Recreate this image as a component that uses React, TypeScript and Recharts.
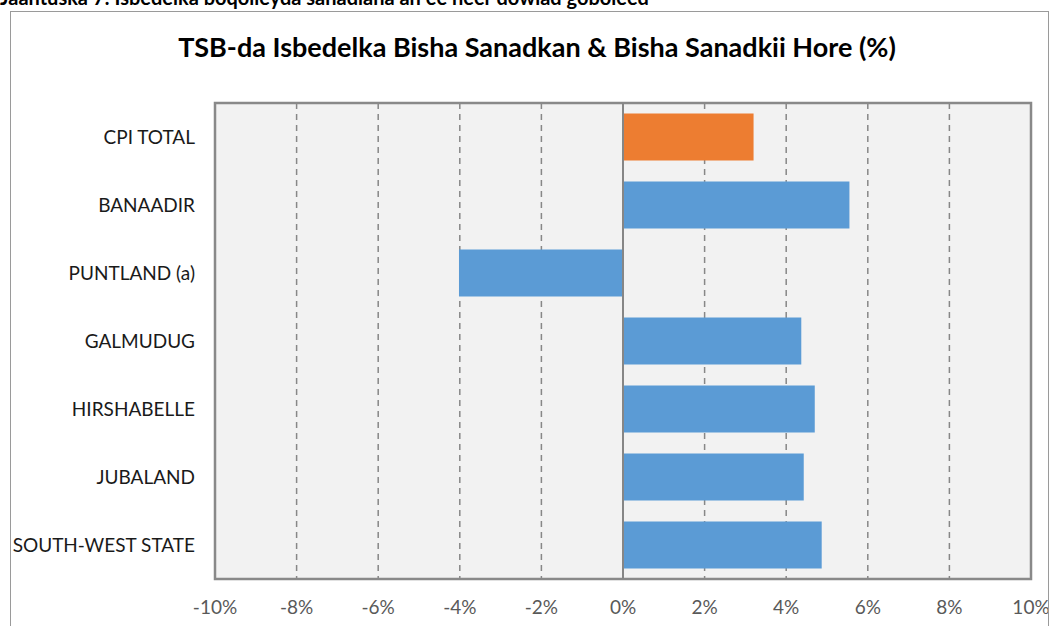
import React from 'react';
import { BarChart, Bar, XAxis, YAxis, CartesianGrid, Cell, ReferenceLine, ReferenceArea } from 'recharts';

const regions = ['CPI TOTAL', 'BANAADIR', 'PUNTLAND (a)', 'GALMUDUG', 'HIRSHABELLE', 'JUBALAND', 'SOUTH-WEST STATE'];
const changePct = [3.2, 5.55, -4.02, 4.37, 4.7, 4.43, 4.87];
const xTicks = [-10, -8, -6, -4, -2, 0, 2, 4, 6, 8, 10];

const FONT = 'Lato, "Open Sans", sans-serif';

const data = regions.map((name, i) => ({ name, value: changePct[i] }));

export default function App() {
  return (
    <div style={{ position: 'absolute', left: 0, top: 0, width: 1050, height: 626, overflow: 'hidden', background: '#fff', fontFamily: FONT }}>
      <div style={{ position: 'absolute', left: 0, top: -13, fontSize: 20, lineHeight: '20px', fontWeight: 700, color: '#000', whiteSpace: 'nowrap' }}>
        Jaantuska 7: Isbedelka boqolleyda sanadlaha ah ee heer dowlad goboleed
      </div>
      <div style={{ position: 'absolute', left: 10, top: 11, width: 1037, height: 640, border: '1px solid #9a9a9a' }} />
      <div style={{ position: 'absolute', left: 26, top: 33, width: 1022, textAlign: 'center', fontSize: 27, lineHeight: '27px', fontWeight: 700, color: '#000', whiteSpace: 'nowrap' }}>
        TSB-da Isbedelka Bisha Sanadkan &amp; Bisha Sanadkii Hore (%)
      </div>
      <div style={{ position: 'absolute', left: 10, top: 11 }}>
        <BarChart
          width={1038}
          height={615}
          data={data}
          layout="vertical"
          margin={{ top: 92, right: 17, bottom: 7, left: 0 }}
          barCategoryGap="15.5%"
        >
          <CartesianGrid horizontal={false} stroke="#878787" strokeDasharray="6 5" strokeWidth={1.5} fill="#f2f2f2" />
          <XAxis
            type="number"
            domain={[-10, 10]}
            ticks={xTicks}
            tickFormatter={(v: number) => `${v}%`}
            axisLine={false}
            tickLine={false}
            tickSize={0}
            tickMargin={22}
            height={40}
            interval={0}
            tick={{ fill: '#595959', fontSize: 19, fontFamily: FONT }}
          />
          <YAxis
            type="category"
            dataKey="name"
            width={205}
            axisLine={false}
            tickLine={false}
            tickSize={0}
            tickMargin={20}
            interval={0}
            tick={{ fill: '#1a1a1a', fontSize: 19, fontFamily: FONT }}
          />
          <Bar dataKey="value" isAnimationActive={false}>
            {data.map((d, i) => (
              <Cell key={d.name} fill={i === 0 ? '#ED7D31' : '#5B9BD5'} />
            ))}
          </Bar>
          <ReferenceLine x={0} stroke="#868686" strokeWidth={2} />
          <ReferenceArea x1={-10} x2={10} fill="none" stroke="#898989" strokeWidth={2.5} fillOpacity={0} />
        </BarChart>
      </div>
    </div>
  );
}
